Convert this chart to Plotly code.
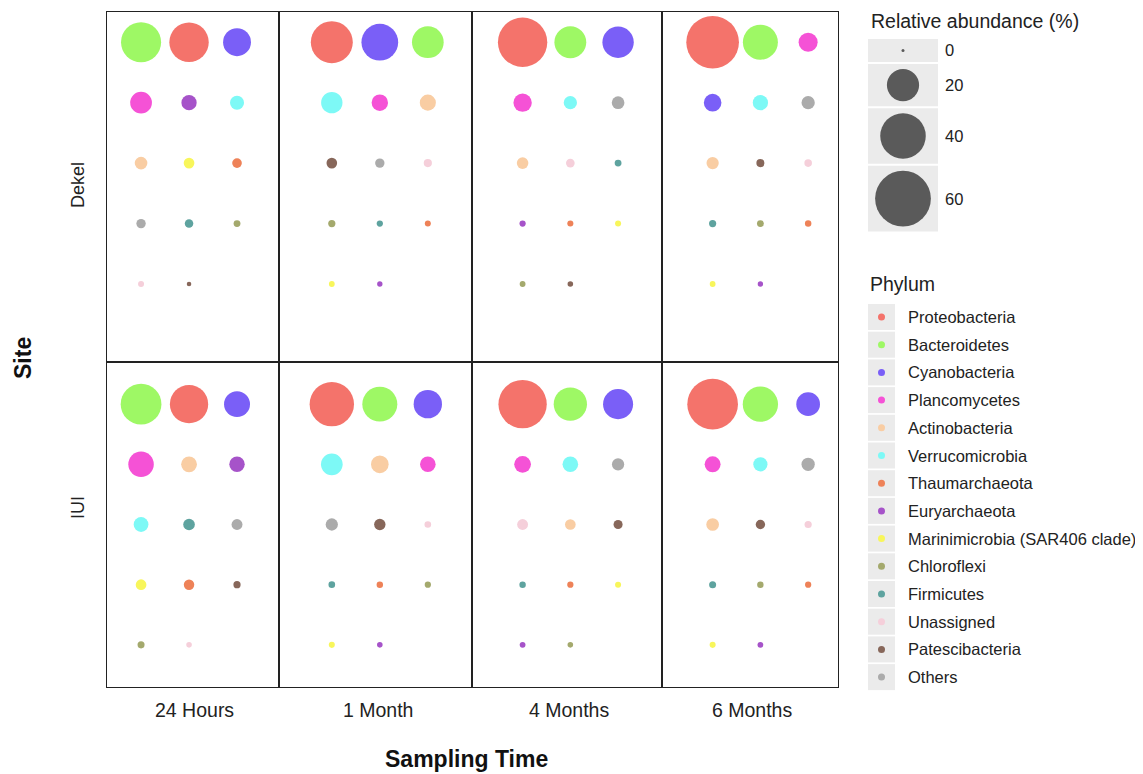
import plotly.graph_objects as go

W, H = 1143, 774          # browser window
OX, OY = 8, 8             # default page body margin
FW, FH = W - OX, H - OY   # visible figure size
FONT = "Liberation Sans, Arial, Helvetica, sans-serif"

sites = ["Dekel", "IUI"]
times = ["24 Hours", "1 Month", "4 Months", "6 Months"]

phyla = ["Proteobacteria", "Bacteroidetes", "Cyanobacteria", "Plancomycetes",
         "Actinobacteria", "Verrucomicrobia", "Thaumarchaeota", "Euryarchaeota",
         "Marinimicrobia (SAR406 clade)", "Chloroflexi", "Firmicutes",
         "Unassigned", "Patescibacteria", "Others"]
phylum_colors = ["#F4736B", "#9EF865", "#7A5FF7", "#F552D6",
                 "#F9CDA3", "#7DF9F6", "#EE8258", "#A653C9",
                 "#F8F65B", "#A4A96D", "#5EA39F",
                 "#F5CFDA", "#87675A", "#ABABAB"]

MAR = "Marinimicrobia (SAR406 clade)"

# ranked phyla (left->right, top->bottom) and relative abundance (%) per panel
dekel_24h_phyla = ["Bacteroidetes", "Proteobacteria", "Cyanobacteria", "Plancomycetes", "Euryarchaeota",
                   "Verrucomicrobia", "Actinobacteria", MAR, "Thaumarchaeota", "Others", "Firmicutes",
                   "Chloroflexi", "Unassigned", "Patescibacteria"]
dekel_24h_values = [31, 30, 15, 9.1, 4.5, 3.8, 3.1, 2.2, 1.8, 1.7, 1.4, 0.9, 0.7, 0.4]

dekel_1m_phyla = ["Proteobacteria", "Cyanobacteria", "Bacteroidetes", "Verrucomicrobia", "Plancomycetes",
                  "Actinobacteria", "Patescibacteria", "Others", "Unassigned", "Chloroflexi", "Firmicutes",
                  "Thaumarchaeota", MAR, "Euryarchaeota"]
dekel_1m_values = [34, 26, 19.4, 8.8, 5.2, 5.0, 2.2, 1.7, 1.3, 1.0, 0.75, 0.7, 0.65, 0.55]

dekel_4m_phyla = ["Proteobacteria", "Bacteroidetes", "Cyanobacteria", "Plancomycetes", "Verrucomicrobia",
                  "Others", "Actinobacteria", "Unassigned", "Firmicutes", "Euryarchaeota", "Thaumarchaeota",
                  MAR, "Chloroflexi", "Patescibacteria"]
dekel_4m_values = [47, 19.6, 19, 6.5, 3.4, 3.1, 2.6, 1.45, 0.9, 0.75, 0.72, 0.7, 0.65, 0.6]

dekel_6m_phyla = ["Proteobacteria", "Bacteroidetes", "Plancomycetes", "Cyanobacteria", "Verrucomicrobia",
                  "Others", "Actinobacteria", "Patescibacteria", "Unassigned", "Firmicutes", "Chloroflexi",
                  "Thaumarchaeota", MAR, "Euryarchaeota"]
dekel_6m_values = [53.5, 23.6, 7.0, 6.0, 4.5, 3.4, 2.9, 1.25, 1.1, 1.0, 0.9, 0.8, 0.65, 0.55]

iui_24h_phyla = ["Bacteroidetes", "Proteobacteria", "Cyanobacteria", "Plancomycetes", "Actinobacteria",
                 "Euryarchaeota", "Verrucomicrobia", "Firmicutes", "Others", MAR, "Thaumarchaeota",
                 "Patescibacteria", "Chloroflexi", "Unassigned"]
iui_24h_values = [32, 28.3, 13, 12.5, 4.8, 4.6, 4.2, 2.6, 2.3, 2.2, 2.1, 1.0, 0.95, 0.6]

iui_1m_phyla = ["Proteobacteria", "Bacteroidetes", "Cyanobacteria", "Verrucomicrobia", "Actinobacteria",
                "Plancomycetes", "Others", "Patescibacteria", "Unassigned", "Firmicutes", "Thaumarchaeota",
                "Chloroflexi", MAR, "Euryarchaeota"]
iui_1m_values = [38, 23.6, 15.5, 9.1, 6.0, 4.7, 2.9, 2.5, 0.85, 0.85, 0.8, 0.75, 0.7, 0.6]

iui_4m_phyla = ["Proteobacteria", "Bacteroidetes", "Cyanobacteria", "Plancomycetes", "Verrucomicrobia",
                "Others", "Unassigned", "Actinobacteria", "Patescibacteria", "Firmicutes", "Thaumarchaeota",
                MAR, "Euryarchaeota", "Chloroflexi"]
iui_4m_values = [45, 21.4, 17.4, 5.4, 4.7, 2.9, 2.3, 2.2, 1.6, 0.8, 0.75, 0.7, 0.65, 0.6]

iui_6m_phyla = ["Proteobacteria", "Bacteroidetes", "Cyanobacteria", "Plancomycetes", "Verrucomicrobia",
                "Others", "Actinobacteria", "Patescibacteria", "Unassigned", "Firmicutes", "Chloroflexi",
                "Thaumarchaeota", MAR, "Euryarchaeota"]
iui_6m_values = [49.5, 24, 10.8, 4.9, 3.9, 3.4, 3.1, 1.7, 1.0, 0.95, 0.8, 0.75, 0.7, 0.65]

size_legend_values = [0, 20, 40, 60]

panels = [
    [(dekel_24h_phyla, dekel_24h_values), (dekel_1m_phyla, dekel_1m_values),
     (dekel_4m_phyla, dekel_4m_values), (dekel_6m_phyla, dekel_6m_values)],
    [(iui_24h_phyla, iui_24h_values), (iui_1m_phyla, iui_1m_values),
     (iui_4m_phyla, iui_4m_values), (iui_6m_phyla, iui_6m_values)],
]

color_of = dict(zip(phyla, phylum_colors))


def bubble_diameter(v):
    return max(3.0, 7.2 * v ** 0.5)


def px_x(x):
    return (x - OX) / FW


def px_y(y):
    return 1 - (y - OY) / FH


# ---- layout geometry (window pixels) ----
col_edges = [(107, 279), (279, 472), (472, 662), (662, 838)]
row_edges = [(12, 362), (362, 687)]
col_xranges = [[0.29, 3.875], [-0.10, 3.92], [-0.06, 3.92], [-0.06, 3.625]]
row_yranges = [[6.29, 0.5], [5.7, 0.3]]

fig = go.Figure()
layout = {}

for r in range(2):
    for c in range(4):
        k = r * 4 + c + 1
        names, vals = panels[r][c]
        xs = [i % 3 + 1 for i in range(len(vals))]
        ys = [i // 3 + 1 for i in range(len(vals))]
        fig.add_trace(go.Scatter(
            x=xs, y=ys, mode="markers",
            xaxis=f"x{k}", yaxis=f"y{k}",
            marker=dict(size=[bubble_diameter(v) for v in vals],
                        color=[color_of[n] for n in names],
                        line=dict(width=0), opacity=1),
            text=names, customdata=vals,
            hovertemplate="%{text}: %{customdata}%<extra></extra>",
            showlegend=False,
        ))
        x0, x1 = col_edges[c]
        y0, y1 = row_edges[r]
        axcommon = dict(showline=True, mirror=True, linecolor="#222222", linewidth=1.2,
                        showgrid=False, zeroline=False, showticklabels=False, ticks="",
                        fixedrange=True)
        layout[f"xaxis{k}"] = dict(domain=[px_x(x0), px_x(x1)], range=col_xranges[c],
                                   anchor=f"y{k}", **axcommon)
        layout[f"yaxis{k}"] = dict(domain=[px_y(y1), px_y(y0)], range=row_yranges[r],
                                   anchor=f"x{k}", **axcommon)

# ---- legend drawn on a full-figure pixel axis ----
LK = 9
layout[f"xaxis{LK}"] = dict(domain=[0, 1], range=[OX, OX + FW], visible=False, fixedrange=True, anchor=f"y{LK}")
layout[f"yaxis{LK}"] = dict(domain=[0, 1], range=[OY + FH, OY], visible=False, fixedrange=True, anchor=f"x{LK}")

shapes = []
annotations = []

# size legend
box_x0, box_x1 = 868, 938
y_cursor = 39
size_centers = []
for v in size_legend_values:
    h = max(23, bubble_diameter(v) + 10)
    shapes.append(dict(type="rect", xref="paper", yref="paper",
                       x0=px_x(box_x0), x1=px_x(box_x1), y0=px_y(y_cursor + h), y1=px_y(y_cursor),
                       fillcolor="#EBEBEB", line=dict(width=0), layer="below"))
    size_centers.append(y_cursor + h / 2)
    annotations.append(dict(x=px_x(943), y=px_y(y_cursor + h / 2), xref="paper", yref="paper",
                            text=str(v), showarrow=False, xanchor="left", yanchor="middle",
                            font=dict(size=16.5, color="#222222", family=FONT)))
    y_cursor += h + 2

fig.add_trace(go.Scatter(
    x=[(box_x0 + box_x1) / 2] * len(size_legend_values), y=size_centers, mode="markers",
    xaxis=f"x{LK}", yaxis=f"y{LK}",
    marker=dict(size=[bubble_diameter(v) for v in size_legend_values], color="#5A5A5A",
                line=dict(width=0), opacity=1),
    hoverinfo="skip", showlegend=False))

annotations.append(dict(x=px_x(869), y=px_y(21), xref="paper", yref="paper",
                        text="Relative abundance (%)", showarrow=False, xanchor="left",
                        yanchor="middle", font=dict(size=19.5, color="#222222", family=FONT)))

# phylum legend
annotations.append(dict(x=px_x(868), y=px_y(284), xref="paper", yref="paper",
                        text="Phylum", showarrow=False, xanchor="left",
                        yanchor="middle", font=dict(size=19.5, color="#222222", family=FONT)))
ph_centers = []
for i, name in enumerate(phyla):
    cy = 317 + i * 27.7
    ph_centers.append(cy)
    shapes.append(dict(type="rect", xref="paper", yref="paper",
                       x0=px_x(868), x1=px_x(895), y0=px_y(cy + 13), y1=px_y(cy - 13),
                       fillcolor="#EBEBEB", line=dict(width=0), layer="below"))
    annotations.append(dict(x=px_x(906), y=px_y(cy), xref="paper", yref="paper",
                            text=name, showarrow=False, xanchor="left", yanchor="middle",
                            font=dict(size=16.5, color="#222222", family=FONT)))

fig.add_trace(go.Scatter(
    x=[881.5] * len(phyla), y=ph_centers, mode="markers",
    xaxis=f"x{LK}", yaxis=f"y{LK}",
    marker=dict(size=7, color=phylum_colors, line=dict(width=0), opacity=1),
    hoverinfo="skip", showlegend=False))

# axis / strip labels
for c, t in enumerate(times):
    x0, x1 = col_edges[c]
    annotations.append(dict(x=px_x((x0 + x1) / 2 + 2), y=px_y(710), xref="paper", yref="paper",
                            text=t, showarrow=False, xanchor="center", yanchor="middle",
                            font=dict(size=19.5, color="#222222", family=FONT)))
strip_y = [185, 508]
for r, s in enumerate(sites):
    annotations.append(dict(x=px_x(78), y=px_y(strip_y[r]), xref="paper", yref="paper",
                            text=s, showarrow=False, textangle=-90, xanchor="center",
                            yanchor="middle", font=dict(size=18, color="#222222", family=FONT)))

annotations.append(dict(x=px_x(466), y=px_y(759), xref="paper", yref="paper",
                        text="<b>Sampling Time</b>", showarrow=False, xanchor="center",
                        yanchor="middle", font=dict(size=23, color="#111111", family=FONT)))
annotations.append(dict(x=px_x(23), y=px_y(358), xref="paper", yref="paper",
                        text="<b>Site</b>", showarrow=False, textangle=-90, xanchor="center",
                        yanchor="middle", font=dict(size=23, color="#111111", family=FONT)))

fig.update_layout(
    width=FW, height=FH,
    margin=dict(l=0, r=0, t=0, b=0),
    paper_bgcolor="white",
    plot_bgcolor="rgba(0,0,0,0)",
    showlegend=False,
    shapes=shapes,
    annotations=annotations,
    font=dict(family=FONT),
    **layout,
)

fig.write_html("out.html")
